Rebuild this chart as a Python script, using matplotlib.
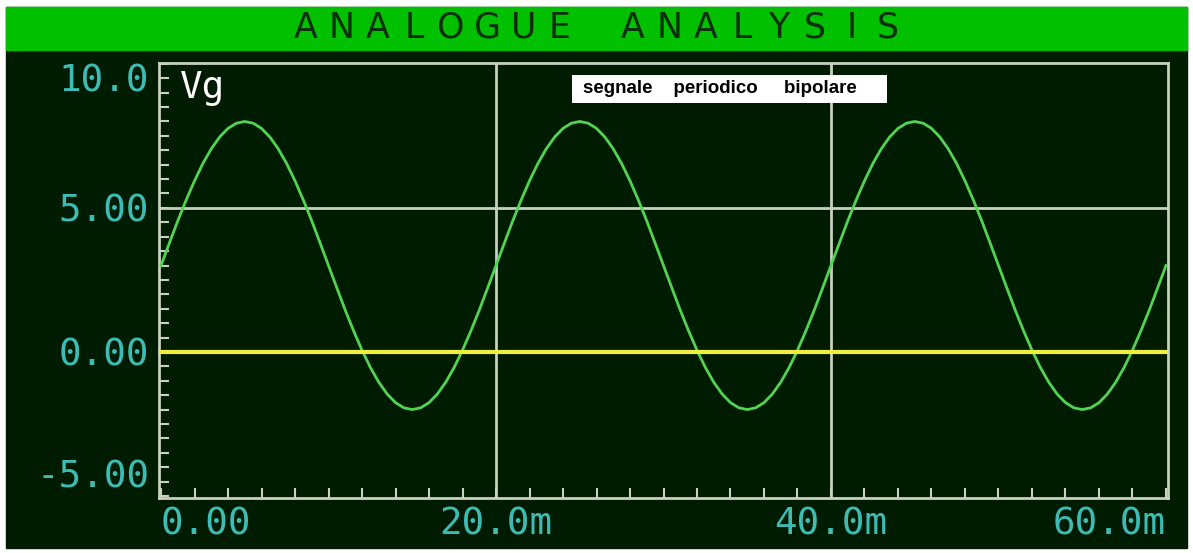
import numpy as np
import matplotlib.pyplot as plt
from matplotlib.patches import Rectangle
from matplotlib.ticker import MultipleLocator

# ------------------------
# Data (time in ms, Vg in volts), 0.5 ms steps
# ------------------------
t_ms = np.arange(0, 60.5, 0.5)
vg_period = [3.00, 3.78, 4.55, 5.27, 5.94, 6.54, 7.05, 7.46, 7.76, 7.94,
             8.00, 7.94, 7.76, 7.46, 7.05, 6.54, 5.94, 5.27, 4.55, 3.78,
             3.00, 2.22, 1.45, 0.73, 0.06, -0.54, -1.05, -1.46, -1.76, -1.94,
             -2.00, -1.94, -1.76, -1.46, -1.05, -0.54, 0.06, 0.73, 1.45, 2.22]
vg = vg_period * 3 + [3.00]

y_ticks = [-5, 0, 5, 10]
y_labels = ["-5.00", "0.00", "5.00", "10.0"]
x_ticks = [0, 20, 40, 60]
x_labels = ["0.00", "20.0m", "40.0m", "60.0m"]

title = "ANALOGUE ANALYSIS"
trace_name = "Vg"
note = "segnale    periodico     bipolare"

# ------------------------
# Colours
# ------------------------
bg = "#001c00"
bar = "#00c000"
frame = "#c8d0c0"
label_c = "#3cbcb4"
trace_c = "#52d452"
zero_c = "#f0f03c"

W, H = 1193, 553
fig = plt.figure(figsize=(W / 100, H / 100), dpi=100, facecolor="white")

def fx(px):
    return px / W

def fy(py):
    return 1 - py / H

# dark panel + green title bar (behind the axes)
fig.patches.append(Rectangle((fx(6), fy(548)), fx(1187) - fx(6), fy(7) - fy(548),
                             transform=fig.transFigure, color=bg, zorder=-2))
fig.patches.append(Rectangle((fx(6), fy(50)), fx(1187) - fx(6), fy(7) - fy(50),
                             transform=fig.transFigure, color=bar, zorder=-1))

# letter-spaced title
pitch = 36.4
x0 = 287 + pitch / 2
for i, ch in enumerate(title):
    fig.text(fx(x0 + i * pitch), fy(28), ch, ha="center", va="center",
             fontsize=25, color="#0b2e0b", family="DejaVu Sans")

ax = fig.add_axes([fx(159), fy(498), fx(1168) - fx(159), fy(63) - fy(498)])
ax.set_facecolor(bg)

ax.plot(t_ms, vg, color=trace_c, lw=2, zorder=3)
ax.axhline(0, color=zero_c, lw=3, zorder=4)
ax.axhline(5, color=frame, lw=2, zorder=2)
for xv in x_ticks[1:3]:
    ax.axvline(xv, color=frame, lw=2, zorder=2)

ax.set_xlim(-0.12, 60.12)
ax.set_ylim(-5.07, 10.03)

for s in ax.spines.values():
    s.set_color(frame)
    s.set_linewidth(2)

ax.set_xticks(x_ticks)
ax.set_xticklabels(x_labels)
ax.set_yticks(y_ticks)
ax.set_yticklabels(y_labels)
ax.xaxis.set_minor_locator(MultipleLocator(2))
ax.yaxis.set_minor_locator(MultipleLocator(0.5))
ax.tick_params(which="both", direction="in", length=7, width=1.5, color=frame,
               top=False, right=False)
ax.tick_params(axis="x", which="major", pad=6, labelsize=27, labelcolor=label_c)
ax.tick_params(axis="y", which="major", pad=7, labelsize=27, labelcolor=label_c)

for lab in ax.get_xticklabels() + ax.get_yticklabels():
    lab.set_family("DejaVu Sans Mono")
xl = ax.get_xticklabels()
xl[0].set_ha("left")
xl[-1].set_ha("right")
yl = ax.get_yticklabels()
yl[0].set_va("bottom")
yl[-1].set_va("top")

ax.text(0.021, 0.985, trace_name, transform=ax.transAxes, ha="left", va="top",
        fontsize=27, color="white", family="DejaVu Sans Mono", zorder=5)

# annotation box
ax.add_patch(Rectangle((0.409, 0.908), 0.3125, 0.064, transform=ax.transAxes,
                       facecolor="white", edgecolor="none", zorder=5))
ax.text(0.420, 0.941, note, transform=ax.transAxes, ha="left", va="center",
        fontsize=13.5, fontweight="bold", color="black", family="Liberation Sans",
        zorder=6)

fig.savefig("out.png", dpi=100, facecolor=fig.get_facecolor())
